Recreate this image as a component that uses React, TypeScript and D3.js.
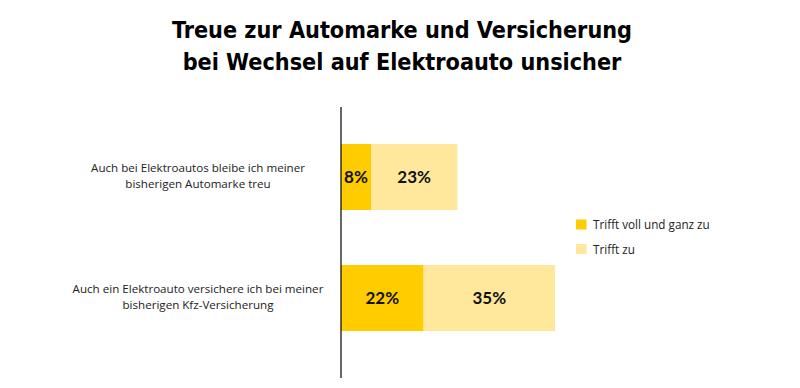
import React from "react";
import * as d3 from "d3";

const title = ["Treue zur Automarke und Versicherung", "bei Wechsel auf Elektroauto unsicher"];
const categories = [
  ["Auch bei Elektroautos bleibe ich meiner", "bisherigen Automarke treu"],
  ["Auch ein Elektroauto versichere ich bei meiner", "bisherigen Kfz-Versicherung"],
];
const seriesNames = ["Trifft voll und ganz zu", "Trifft zu"];
const fullAgree = [8, 22];
const agree = [23, 35];
const colors = ["#FFCC00", "#FFE89C"];

const width = 800;
const height = 388;

export default function App() {
  const x = d3.scaleLinear().domain([0, 57]).range([341, 555]);
  const y = d3.scaleBand<number>().domain([0, 1]).range([116.5, 358.5]).paddingInner(0.4545).paddingOuter(0.2273);

  const stacked = d3.stack<number>().keys(["0", "1"]).value((i, k) => (k === "0" ? fullAgree[i] : agree[i]))([0, 1]);

  return (
    <svg width={width} height={height} style={{ position: "absolute", left: 0, top: 0, background: "#fff" }}>
      <g fontFamily="'DejaVu Sans Condensed', sans-serif" fontWeight="bold" fontSize={23.2} textAnchor="middle" fill="#000">
        {title.map((t, i) => (
          <text key={i} x={402} y={38 + i * 32}>{t}</text>
        ))}
      </g>

      {stacked.map((s, si) => (
        <g key={si}>
          {s.map((d, i) => (
            <g key={i}>
              <rect x={x(d[0])} y={y(i)} width={x(d[1]) - x(d[0])} height={y.bandwidth()} fill={colors[si]} />
              <text
                x={(x(d[0]) + x(d[1])) / 2}
                y={y(i)! + y.bandwidth() / 2 + 6}
                textAnchor="middle"
                fontFamily="Lato, sans-serif"
                fontWeight="bold"
                fontSize={17}
                fill="#111"
              >
                {d[1] - d[0]}%
              </text>
            </g>
          ))}
        </g>
      ))}

      <line x1={341} x2={341} y1={107} y2={378} stroke="#000" strokeWidth={1.2} />

      {categories.map((lines, i) => (
        <text key={i} textAnchor="middle" fontFamily="'Open Sans', sans-serif" fontSize={11.6} fill="#222">
          {lines.map((l, j) => (
            <tspan key={j} x={198} y={y(i)! + y.bandwidth() / 2 - 5 + j * 16}>{l}</tspan>
          ))}
        </text>
      ))}

      {seriesNames.map((n, i) => (
        <g key={i} transform={`translate(576, ${219.5 + i * 24.5})`}>
          <rect width={10.5} height={10} fill={colors[i]} />
          <text x={17} y={9.5} fontFamily="'Open Sans', sans-serif" fontSize={11.7} fill="#222">{n}</text>
        </g>
      ))}
    </svg>
  );
}
